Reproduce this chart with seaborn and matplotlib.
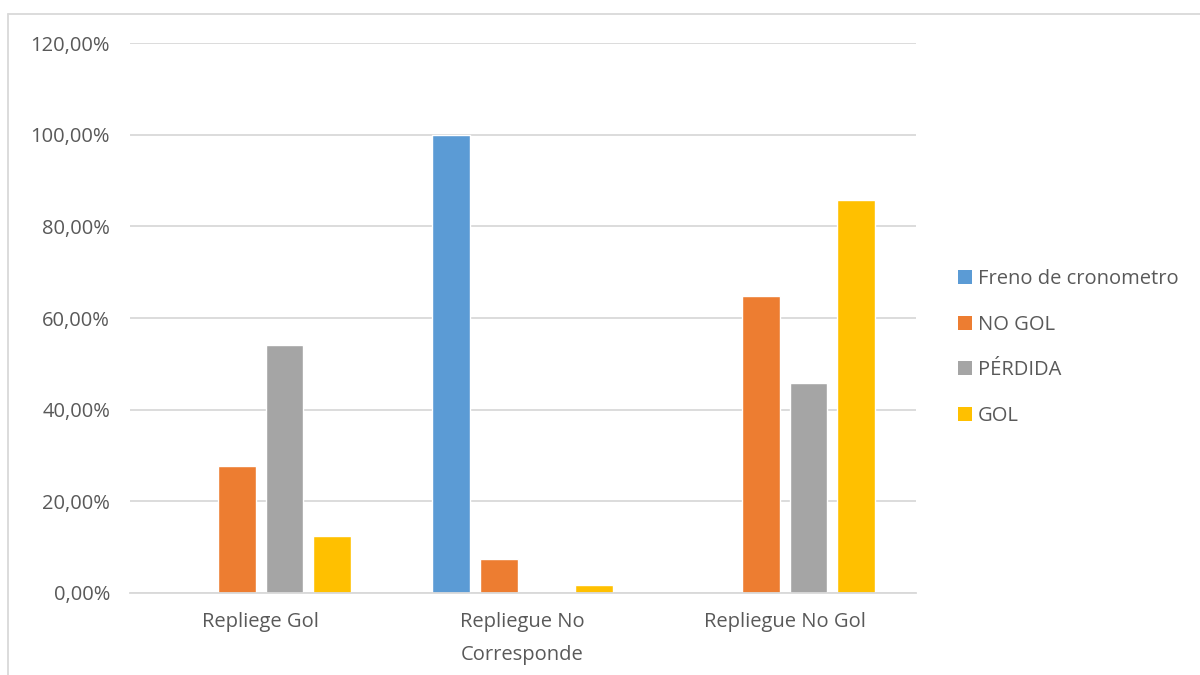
import matplotlib
matplotlib.use("Agg")
import matplotlib.pyplot as plt
from matplotlib.ticker import FuncFormatter, MultipleLocator
from matplotlib.lines import Line2D
from matplotlib.patches import Patch
import seaborn as sns
import pandas as pd

categories = ["Repliege Gol", "Repliegue No\nCorresponde", "Repliegue No Gol"]
series = ["Freno de cronometro", "NO GOL", "PÉRDIDA", "GOL"]
freno = [0.0, 100.0, 0.0]
no_gol = [27.78, 7.41, 64.81]
perdida = [54.17, 0.0, 45.83]
gol = [12.50, 1.79, 85.71]
colors = ["#5B9BD5", "#ED7D31", "#A5A5A5", "#FFC000"]

rows = []
for name, vals in zip(series, [freno, no_gol, perdida, gol]):
    for cat, v in zip(categories, vals):
        rows.append({"categoria": cat, "serie": name, "valor": v})
df = pd.DataFrame(rows)

sns.set_theme(style="white")
plt.rcParams["font.family"] = ["Open Sans", "DejaVu Sans"]
text_color = "#595959"
grid_color = "#D9D9D9"
fs = 14.5

fig = plt.figure(figsize=(12, 6.75), dpi=100)
ax = fig.add_axes([0.108, 0.1215, 0.655, 0.8145])

sns.barplot(data=df, x="categoria", y="valor", hue="serie",
            order=categories, hue_order=series, palette=colors,
            width=0.73, gap=0.21, saturation=1, ax=ax, legend=False)

ax.set_ylim(0, 120)
ax.set_xlim(-0.5, 2.5)
ax.yaxis.set_major_locator(MultipleLocator(20))
ax.yaxis.set_major_formatter(FuncFormatter(lambda v, p: f"{v:.2f}".replace(".", ",") + "%"))
ax.grid(axis="y", color=grid_color, linewidth=1.3)
ax.set_axisbelow(True)
for s in ["top", "right", "left"]:
    ax.spines[s].set_visible(False)
ax.spines["bottom"].set_color(grid_color)
ax.spines["bottom"].set_linewidth(1.3)
ax.set_xlabel("")
ax.set_ylabel("")
ax.tick_params(axis="both", length=0, labelsize=fs, colors=text_color)
ax.tick_params(axis="y", pad=14)
ax.tick_params(axis="x", pad=14)
for lbl in ax.get_xticklabels():
    lbl.set_linespacing(1.85)

handles = [Patch(facecolor=c, edgecolor="none") for c in colors]
leg = fig.legend(handles, series, loc="center left", bbox_to_anchor=(0.783, 0.485),
                 frameon=False, fontsize=fs, handlelength=0.7, handleheight=0.7,
                 handletextpad=0.3, labelspacing=1.27, labelcolor=text_color)

# outer chart frame (top and left edges)
fig.add_artist(Line2D([8 / 1200, 1.0], [1 - 14 / 675, 1 - 14 / 675], color=grid_color,
                      linewidth=1.3, transform=fig.transFigure))
fig.add_artist(Line2D([8 / 1200, 8 / 1200], [0.0, 1 - 14 / 675], color=grid_color,
                      linewidth=1.3, transform=fig.transFigure))

fig.savefig("out.png", dpi=100, facecolor="white")
